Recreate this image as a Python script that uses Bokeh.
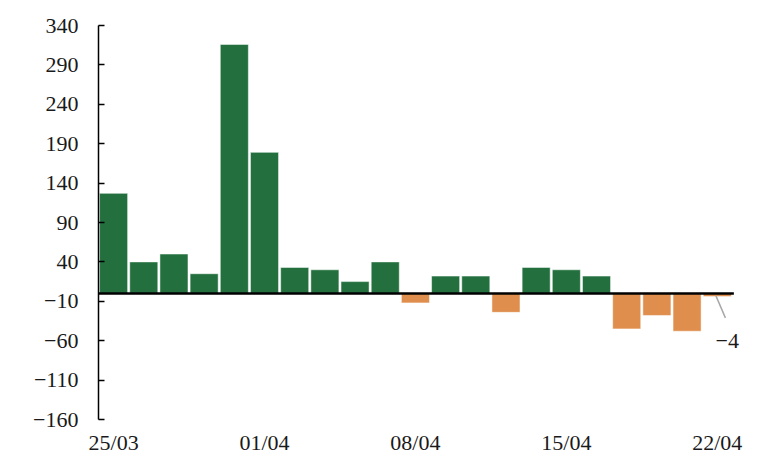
from bokeh.plotting import figure
from bokeh.models import Range1d, FixedTicker, Label, ColumnDataSource
from bokeh.embed import file_html
from bokeh.resources import INLINE

dates = ["25/03", "26/03", "27/03", "28/03", "31/03", "01/04", "02/04", "03/04", "04/04",
         "07/04", "08/04", "09/04", "10/04", "11/04", "14/04", "15/04", "16/04", "17/04",
         "18/04", "21/04", "22/04"]
values = [127, 40, 50, 25, 316, 179, 33, 30, 15, 40, -12, 22, 22, -24, 33, 30, 22, -45, -28, -48, -4]
y_ticks = [-160, -110, -60, -10, 40, 90, 140, 190, 240, 290, 340]
x_label_every = 5

POS = "#23703E"
NEG = "#DF8E4D"
FONT = "Liberation Serif"

idx = list(range(len(values)))
colors = [POS if v >= 0 else NEG for v in values]
src = ColumnDataSource(dict(x=idx, top=values, color=colors))

n = len(values)
p = figure(width=771, height=457, output_backend="svg", toolbar_location=None,
           x_range=Range1d(-0.5, n - 0.23), y_range=Range1d(y_ticks[0], y_ticks[-1]),
           min_border_left=98, min_border_right=31, min_border_top=25, min_border_bottom=0)
p.outline_line_color = None
p.grid.visible = False

p.vbar(x="x", top="top", bottom=0, width=0.93, source=src, fill_color="color",
       line_color="white", line_alpha=0.5, line_width=1)

# zero line
p.segment(x0=[-0.5], y0=[0], x1=[n - 0.45], y1=[0], line_color="black", line_width=2.5)

# y axis
ya = p.yaxis[0]
ya.ticker = FixedTicker(ticks=y_ticks)
ya.major_label_overrides = {t: (str(t).replace("-", "\u2212")) for t in y_ticks}
ya.axis_line_color = "black"
ya.axis_line_width = 1.5
ya.major_tick_line_color = "black"
ya.major_tick_line_width = 1.5
ya.major_tick_in = 6
ya.major_tick_out = 0
ya.minor_tick_line_color = None
ya.major_label_standoff = 20
ya.major_label_text_font = FONT
ya.major_label_text_font_size = "22px"
ya.major_label_text_color = "#1a1a1a"

# x axis
xa = p.xaxis[0]
xt = idx[::x_label_every]
xa.ticker = FixedTicker(ticks=xt)
xa.major_label_overrides = {i: dates[i] for i in xt}
xa.axis_line_color = None
xa.major_tick_line_color = None
xa.minor_tick_line_color = None
xa.major_tick_in = 0
xa.major_tick_out = 0
xa.major_label_standoff = 10
xa.major_label_text_font = FONT
xa.major_label_text_font_size = "22px"
xa.major_label_text_color = "#1a1a1a"

# annotation for last value
last_i = idx[-1]
last_v = values[-1]
p.segment(x0=[last_i - 0.05], y0=[last_v + 1.5], x1=[last_i + 0.27], y1=[last_v - 27],
          line_color="#A8A8A8", line_width=1.5)
p.add_layout(Label(x=last_i, y=last_v, text=str(last_v).replace("-", "\u2212"),
                   x_offset=10, y_offset=-44, text_align="center", text_baseline="middle",
                   text_font=FONT, text_font_size="22px", text_color="#1a1a1a"))

open("out.html", "w").write(file_html(p, INLINE))
